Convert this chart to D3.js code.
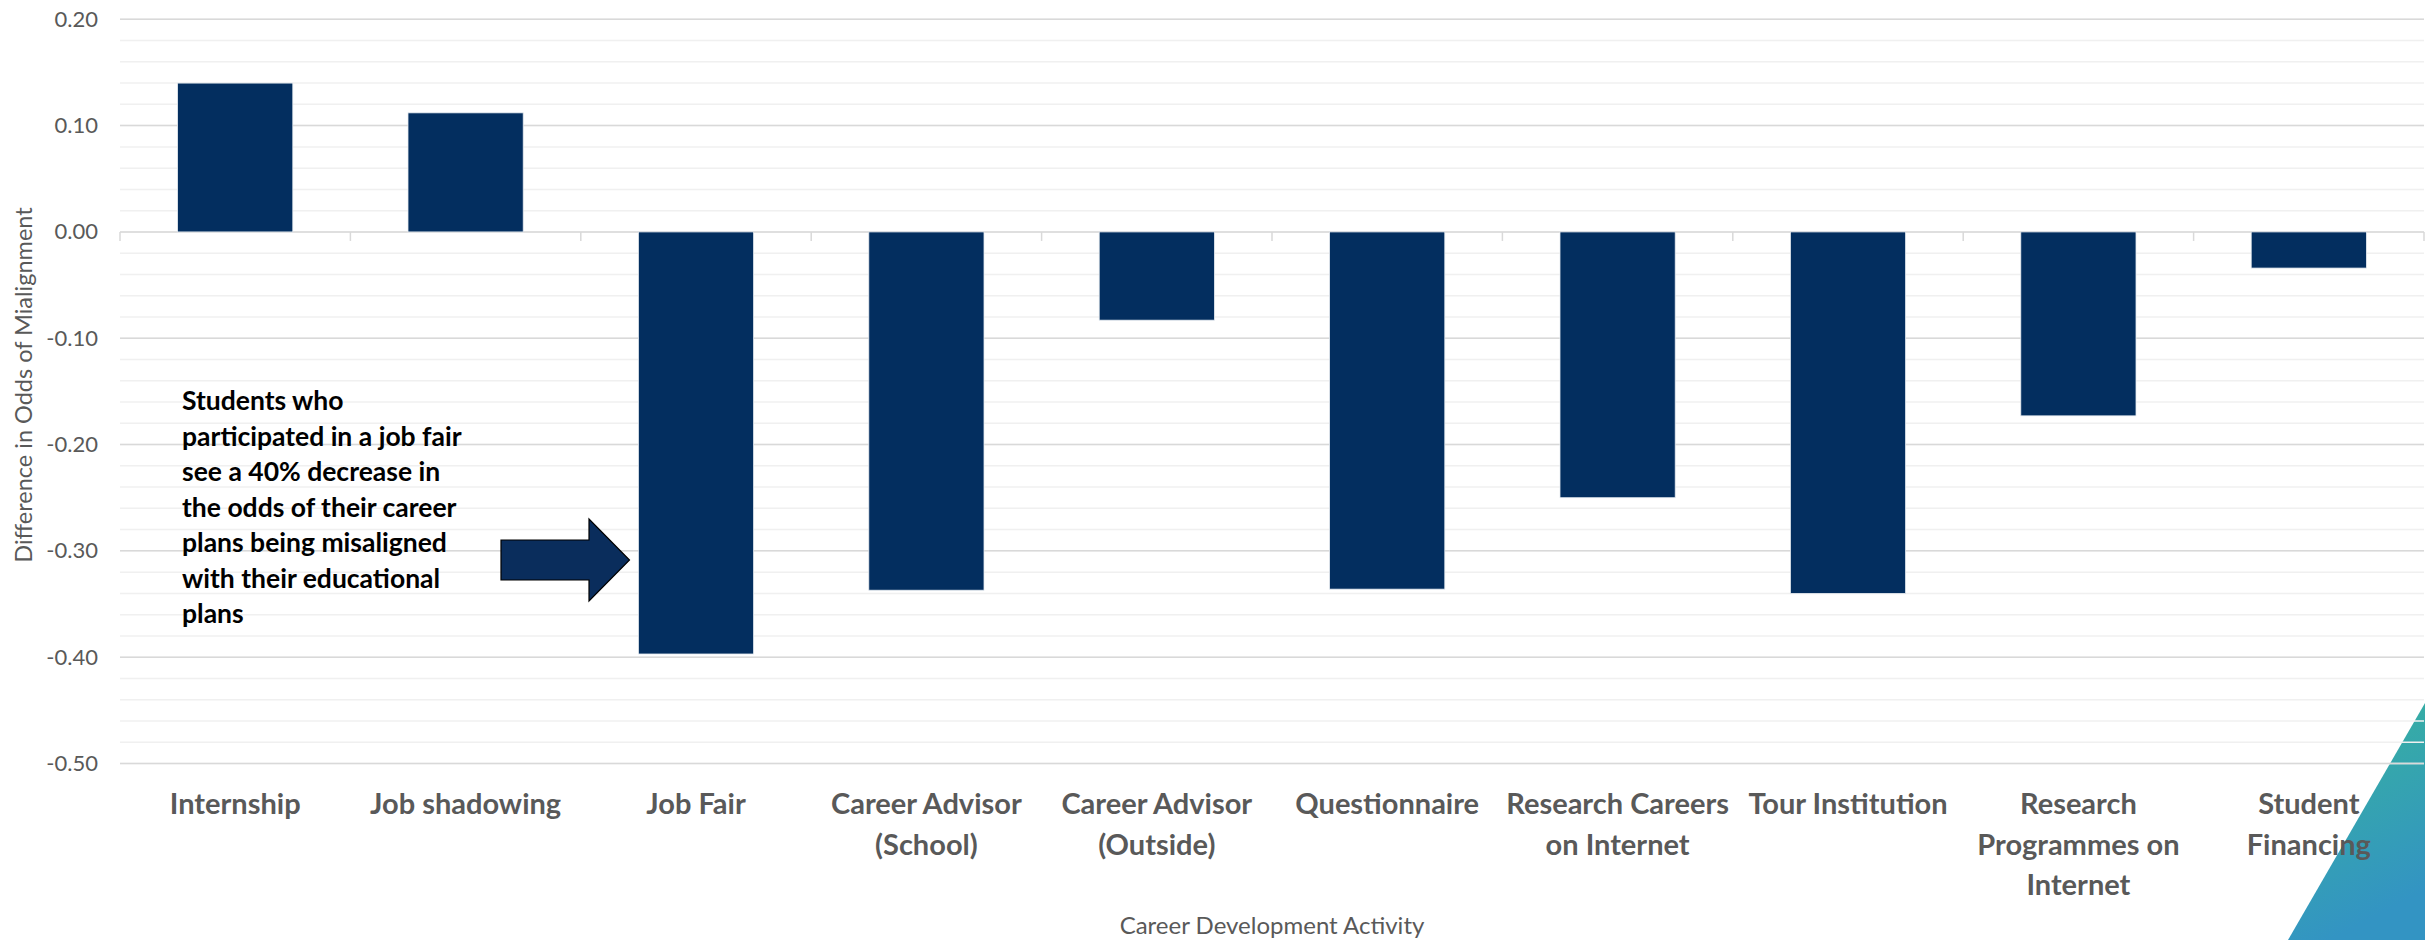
<!DOCTYPE html>
<html>
<head>
<meta charset="utf-8">
<script src="https://cdn.jsdelivr.net/npm/d3@7"></script>
<style>
  body { margin: 0; background: #ffffff; }
  svg { display: block; font-family: Lato, "Open Sans", sans-serif; }
</style>
</head>
<body>
<script>
// data
var categories = ["Internship", "Job shadowing", "Job Fair", "Career Advisor (School)",
  "Career Advisor (Outside)", "Questionnaire", "Research Careers on Internet",
  "Tour Institution", "Research Programmes on Internet", "Student Financing"];
var labelLines = [["Internship"], ["Job shadowing"], ["Job Fair"], ["Career Advisor", "(School)"],
  ["Career Advisor", "(Outside)"], ["Questionnaire"], ["Research Careers", "on Internet"],
  ["Tour Institution"], ["Research", "Programmes on", "Internet"], ["Student", "Financing"]];
var values = [0.14, 0.112, -0.397, -0.337, -0.083, -0.336, -0.25, -0.34, -0.173, -0.034];
var yTicks = [0.2, 0.1, 0, -0.1, -0.2, -0.3, -0.4, -0.5];
var noteLines = ["Students who", "participated in a job fair", "see a 40% decrease in",
  "the odds of their career", "plans being misaligned", "with their educational", "plans"];

var width = 2425,
  height = 940;

var svg = d3.select("body")
  .append("svg")
  .attr("width", width)
  .attr("height", height);

// decorative triangle in the corner
var grad = svg.append("defs").append("linearGradient")
  .attr("id", "tri")
  .attr("x1", 0).attr("y1", 0).attr("x2", 0.3).attr("y2", 1);
grad.append("stop").attr("offset", "0%").attr("stop-color", "#37b59a");
grad.append("stop").attr("offset", "100%").attr("stop-color", "#3394c3");

svg.append("polygon")
  .attr("points", "2425,703 2288,940 2425,940")
  .attr("fill", "url(#tri)");

// scales
var x = d3.scaleBand()
  .domain(categories)
  .range([120, 2424])
  .paddingInner(0.5)
  .paddingOuter(0.25);

var y = d3.scaleLinear()
  .domain([-0.5, 0.2])
  .range([763.5, 19.3]);

// minor gridlines (every 0.02)
svg.append("g")
  .selectAll("line")
  .data(y.ticks(35))
  .enter().append("line")
  .attr("x1", 120)
  .attr("x2", 2424)
  .attr("y1", function(d) { return y(d); })
  .attr("y2", function(d) { return y(d); })
  .attr("stroke", "#f0f0f0")
  .attr("stroke-width", 1.5);

// major gridlines
svg.append("g")
  .selectAll("line")
  .data(yTicks)
  .enter().append("line")
  .attr("x1", 120)
  .attr("x2", 2424)
  .attr("y1", function(d) { return y(d); })
  .attr("y2", function(d) { return y(d); })
  .attr("stroke", "#d9d9d9")
  .attr("stroke-width", 1.5);

// bars
svg.append("g")
  .selectAll("rect")
  .data(values)
  .enter().append("rect")
  .attr("x", function(d, i) { return x(categories[i]); })
  .attr("width", x.bandwidth())
  .attr("y", function(d) { return y(Math.max(0, d)); })
  .attr("height", function(d) { return Math.abs(y(d) - y(0)); })
  .attr("fill", "#032e5f")
  .attr("stroke", "#e6ebf1")
  .attr("stroke-width", 0.8);

// category axis along zero with tick marks between categories
var step = x.step();
svg.append("g")
  .selectAll("line")
  .data(d3.range(categories.length + 1))
  .enter().append("line")
  .attr("x1", function(i) { return 120 + i * step; })
  .attr("x2", function(i) { return 120 + i * step; })
  .attr("y1", y(0))
  .attr("y2", y(0) + 9)
  .attr("stroke", "#d9d9d9")
  .attr("stroke-width", 1.5);

// y axis labels, plain hyphen for the minus sign like the original
var fmt = d3.formatLocale({ decimal: ".", thousands: ",", grouping: [3], currency: ["", ""], minus: "-" })
  .format(".2f");

var yAxis = d3.axisLeft(y)
  .tickValues(yTicks)
  .tickFormat(fmt)
  .tickSize(0)
  .tickPadding(0);

var yg = svg.append("g")
  .attr("transform", "translate(98,0)")
  .call(yAxis);
yg.select(".domain").remove();
yg.selectAll("text")
  .attr("fill", "#595959")
  .style("font-size", "22px")
  .style("font-family", "Lato, sans-serif");

// category labels
svg.append("g")
  .selectAll("text")
  .data(labelLines)
  .enter().append("text")
  .attr("text-anchor", "middle")
  .attr("fill", "#595959")
  .style("font-size", "29px")
  .style("font-weight", "bold")
  .attr("transform", function(d, i) {
    return "translate(" + (x(categories[i]) + x.bandwidth() / 2) + ",814)";
  })
  .selectAll("tspan")
  .data(function(d) { return d; })
  .enter().append("tspan")
  .attr("x", 0)
  .attr("y", function(d, j) { return j * 40.5; })
  .text(function(d) { return d; });

// axis titles
svg.append("text")
  .attr("text-anchor", "middle")
  .attr("transform", "translate(32,385) rotate(-90)")
  .attr("fill", "#595959")
  .style("font-size", "23.5px")
  .text("Difference in Odds of Mialignment");

svg.append("text")
  .attr("x", 1272)
  .attr("y", 934)
  .attr("text-anchor", "middle")
  .attr("fill", "#595959")
  .style("font-size", "24px")
  .text("Career Development Activity");

// annotation
svg.append("text")
  .attr("fill", "#000000")
  .style("font-size", "26.5px")
  .style("font-weight", "bold")
  .selectAll("tspan")
  .data(noteLines)
  .enter().append("tspan")
  .attr("x", 182)
  .attr("y", function(d, i) { return 410 + i * 35.5; })
  .text(function(d) { return d; });

// arrow pointing at the job fair bar
svg.append("polygon")
  .attr("points", "501,540 589,540 589,519 629.5,560 589,601 589,580 501,580")
  .attr("fill", "#0a2d5c")
  .attr("stroke", "#000000")
  .attr("stroke-width", 1.2);
</script>
</body>
</html>
